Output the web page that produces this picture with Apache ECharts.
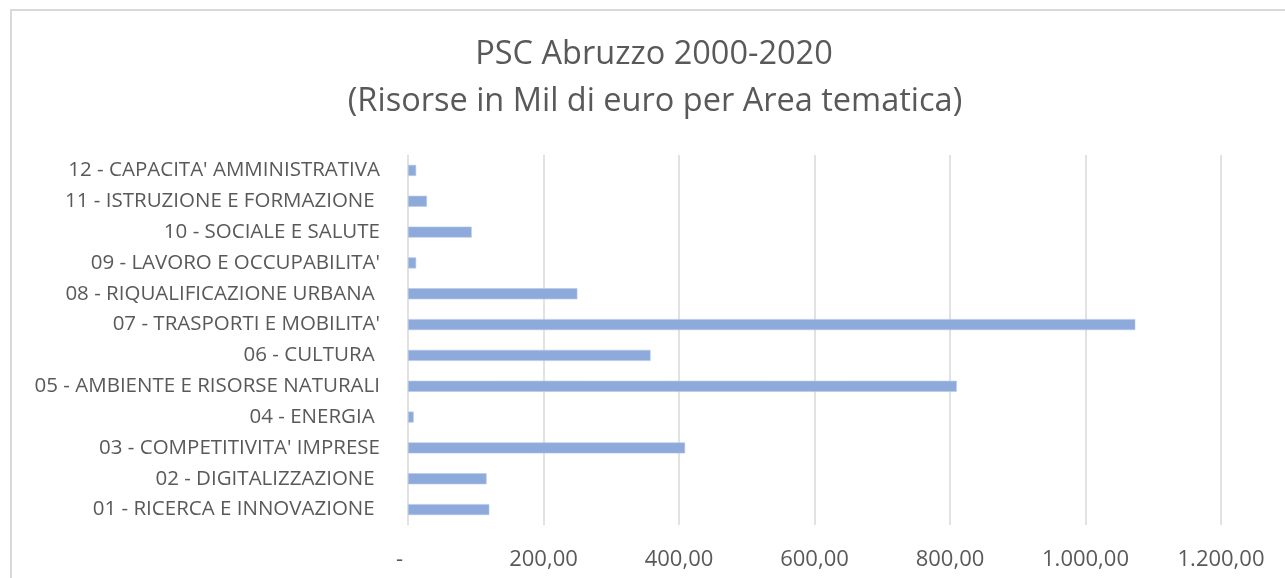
<!DOCTYPE html>
<html>
<head>
<meta charset="utf-8">
<script src="https://cdn.jsdelivr.net/npm/echarts@6/dist/echarts.min.js"></script>
<style>
  html, body { margin: 0; padding: 0; background: #ffffff; }
  #chart { width: 1285px; height: 578px; }
</style>
</head>
<body>
<div id="chart"></div>
<script>
const titleLines = ["PSC Abruzzo 2000-2020", "(Risorse in Mil di euro per Area tematica)"];
const categories = [
  "01 - RICERCA E INNOVAZIONE ",
  "02 - DIGITALIZZAZIONE ",
  "03 - COMPETITIVITA' IMPRESE",
  "04 - ENERGIA ",
  "05 - AMBIENTE E RISORSE NATURALI",
  "06 - CULTURA ",
  "07 - TRASPORTI E MOBILITA'",
  "08 - RIQUALIFICAZIONE URBANA ",
  "09 - LAVORO E OCCUPABILITA'",
  "10 - SOCIALE E SALUTE",
  "11 - ISTRUZIONE E FORMAZIONE ",
  "12 - CAPACITA' AMMINISTRATIVA"
];
const values = [120, 116, 409, 8.4, 810, 358, 1073.5, 250, 12, 94, 28, 12];
const axisMin = 0, axisMax = 1200, axisInterval = 200;

function fmtIt(v) {
  if (v === 0) return "-   ";
  const parts = v.toFixed(2).split(".");
  parts[0] = parts[0].replace(/\B(?=(\d{3})+(?!\d))/g, ".");
  return parts[0] + "," + parts[1];
}

const FONT = "'Open Sans', 'Noto Sans', sans-serif";
const titleStyle = { fontFamily: FONT, fontSize: 32.5, fill: '#595959', textAlign: 'center', textVerticalAlign: 'middle' };
const chart = echarts.init(document.getElementById('chart'), null, { renderer: 'canvas' });
chart.setOption({
  backgroundColor: '#ffffff',
  animation: false,
  graphic: [
    {
      type: 'rect',
      silent: true,
      z: -10,
      shape: { x: 11, y: 10, width: 1320, height: 620 },
      style: { fill: 'none', stroke: '#d9d9d9', lineWidth: 2 }
    },
    { type: 'text', silent: true, x: 654, y: 55, style: Object.assign({ text: titleLines[0] }, titleStyle) },
    { type: 'text', silent: true, x: 655, y: 102, style: Object.assign({ text: titleLines[1] }, titleStyle) }
  ],
  grid: { left: 408, right: 64, top: 155, bottom: 53, containLabel: false },
  xAxis: {
    type: 'value',
    min: axisMin, max: axisMax, interval: axisInterval,
    axisLine: { show: false },
    axisTick: { show: false },
    splitLine: { show: true, lineStyle: { color: '#d9d9d9', width: 1.5 } },
    axisLabel: { fontFamily: FONT, fontSize: 22, color: '#595959', margin: 24, formatter: fmtIt }
  },
  yAxis: {
    type: 'category',
    data: categories,
    axisLine: { show: false },
    axisTick: { show: false },
    axisLabel: { fontFamily: FONT, fontSize: 20.5, color: '#595959', margin: 28 }
  },
  series: [{
    type: 'bar',
    data: values,
    barWidth: 11,
    itemStyle: { color: '#8eaadb', borderColor: '#b4c7e7', borderWidth: 0.6 }
  }]
});
</script>
</body>
</html>
